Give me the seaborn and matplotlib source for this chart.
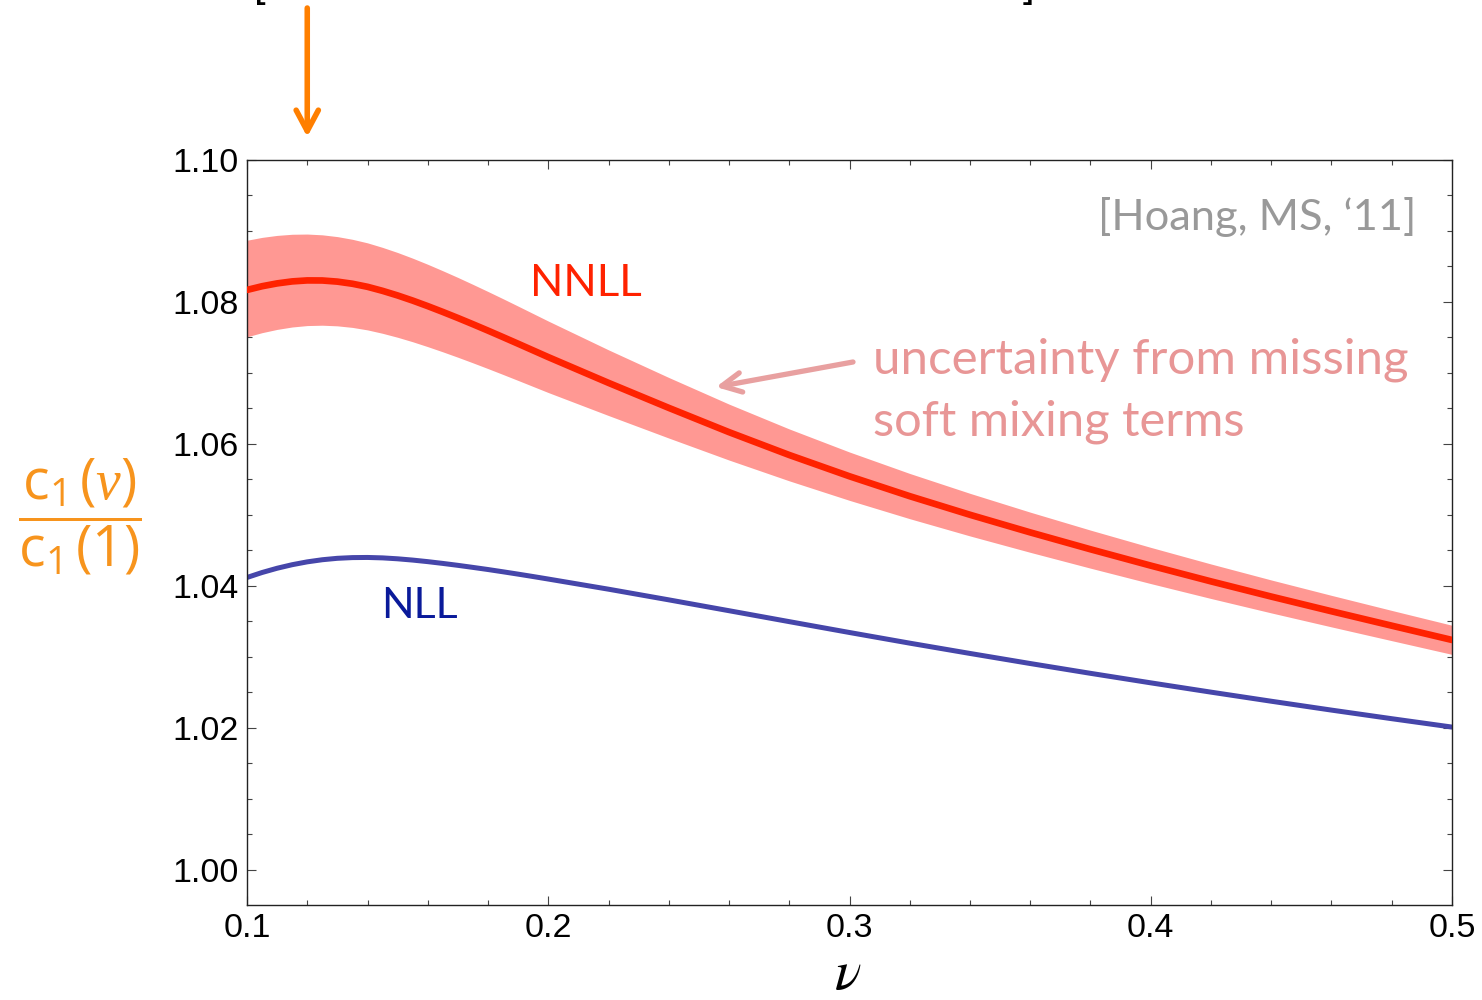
import matplotlib
matplotlib.use("Agg")
import numpy as np
import pandas as pd
import matplotlib.pyplot as plt
import seaborn as sns
from matplotlib.ticker import MultipleLocator, FixedLocator, FixedFormatter

# ---------------- data ----------------
nu = [0.100, 0.105, 0.110, 0.115, 0.120, 0.125, 0.130, 0.135, 0.140, 0.145,
      0.150, 0.155, 0.160, 0.165, 0.170, 0.175, 0.180, 0.185, 0.190, 0.195,
      0.20, 0.22, 0.24, 0.26, 0.28, 0.30, 0.32, 0.34, 0.36, 0.38,
      0.40, 0.42, 0.44, 0.46, 0.48, 0.50]
nnll_center = [1.08170, 1.08222, 1.08262, 1.08290, 1.08304, 1.08303, 1.08287, 1.08257, 1.08214, 1.08157,
               1.08092, 1.08020, 1.07942, 1.07860, 1.07775, 1.07687, 1.07597, 1.07505, 1.07412, 1.07318,
               1.07224, 1.06861, 1.06509, 1.06167, 1.05845, 1.05545, 1.05265, 1.05003, 1.04755, 1.04517,
               1.04287, 1.04065, 1.03851, 1.03644, 1.03441, 1.03240]
nnll_upper = [1.08870, 1.08910, 1.08938, 1.08954, 1.08957, 1.08946, 1.08921, 1.08883, 1.08833, 1.08769,
              1.08697, 1.08617, 1.08531, 1.08440, 1.08346, 1.08248, 1.08148, 1.08046, 1.07942, 1.07837,
              1.07732, 1.07326, 1.06937, 1.06562, 1.06212, 1.05887, 1.05585, 1.05305, 1.05040, 1.04787,
              1.04544, 1.04310, 1.04085, 1.03868, 1.03656, 1.03447]
nnll_lower = [1.07510, 1.07568, 1.07614, 1.07648, 1.07668, 1.07673, 1.07664, 1.07642, 1.07607, 1.07559,
              1.07503, 1.07440, 1.07371, 1.07298, 1.07222, 1.07143, 1.07062, 1.06979, 1.06895, 1.06810,
              1.06725, 1.06401, 1.06084, 1.05774, 1.05481, 1.05206, 1.04948, 1.04705, 1.04474, 1.04251,
              1.04034, 1.03824, 1.03621, 1.03424, 1.03230, 1.03037]
nll = [1.04120, 1.04190, 1.04250, 1.04300, 1.04340, 1.04370, 1.04390, 1.04400, 1.04402, 1.04396,
       1.04383, 1.04365, 1.04343, 1.04318, 1.04291, 1.04262, 1.04232, 1.04200, 1.04167, 1.04133,
       1.04098, 1.03955, 1.03805, 1.03652, 1.03498, 1.03345, 1.03195, 1.03050, 1.02908, 1.02770,
       1.02636, 1.02505, 1.02377, 1.02252, 1.02131, 1.02013]

x_ticks = [0.1, 0.2, 0.3, 0.4, 0.5]
x_tick_labels = ["0.1", "0.2", "0.3", "0.4", "0.5"]
y_ticks = [1.00, 1.02, 1.04, 1.06, 1.08, 1.10]
y_tick_labels = ["1.00", "1.02", "1.04", "1.06", "1.08", "1.10"]

label_nnll = "NNLL"
label_nll = "NLL"
note_lines = ["uncertainty from missing", "soft mixing terms"]
citation = "[Hoang, MS, \u201811]"

# ---------------- style ----------------
sns.set_style("ticks")
plt.rcParams['font.family'] = ['Liberation Sans', 'DejaVu Sans']
plt.rcParams['mathtext.rm'] = 'Open Sans'
plt.rcParams['mathtext.it'] = 'Liberation Serif:italic'
plt.rcParams['mathtext.bf'] = 'Open Sans:bold'
plt.rcParams['mathtext.sf'] = 'Open Sans'

W, H = 1482, 1000
fig = plt.figure(figsize=(W / 100, H / 100), dpi=100)
ax = fig.add_axes([247 / W, 95 / H, 1205 / W, 745 / H])

df = pd.DataFrame({"nu": nu, "NNLL": nnll_center, "NLL": nll})

ax.fill_between(nu, nnll_lower, nnll_upper, color="#FF9893", lw=0, zorder=1)
sns.lineplot(data=df, x="nu", y="NLL", color="#4646AA", lw=3.6, ax=ax, zorder=2)
sns.lineplot(data=df, x="nu", y="NNLL", color="#FF2200", lw=4.8, ax=ax, zorder=3)

ax.set_xlim(0.1, 0.5)
ax.set_ylim(0.99507, 1.10)
ax.xaxis.set_major_locator(FixedLocator(x_ticks))
ax.xaxis.set_major_formatter(FixedFormatter(x_tick_labels))
ax.yaxis.set_major_locator(FixedLocator(y_ticks))
ax.yaxis.set_major_formatter(FixedFormatter(y_tick_labels))
ax.xaxis.set_minor_locator(MultipleLocator(0.02))
ax.yaxis.set_minor_locator(MultipleLocator(0.005))
ax.tick_params(which="both", direction="in", top=True, right=True,
               color="#444444", width=0.8)
ax.tick_params(which="major", length=6.5, labelsize=24.5, labelcolor="black")
ax.tick_params(which="minor", length=3.6)
ax.tick_params(axis="x", which="major", pad=6)
ax.tick_params(axis="y", which="major", pad=6)
for s in ax.spines.values():
    s.set_color("#222222")
    s.set_linewidth(1.0)
ax.set_xlabel("")
ax.set_ylabel("")

# axis labels
fig.text(848 / W, 1 - 975 / H, r"$\nu$", ha="center", va="center",
         fontsize=40, math_fontfamily="stix", color="black")
fig.text(80 / W, 1 - 517 / H,
         r"$\dfrac{\mathrm{c}_{\mathrm{1}}\,(\mathit{\nu})}{\mathrm{c}_{\mathrm{1}}\,(\mathrm{1})}$",
         ha="center", va="center", fontsize=40, math_fontfamily="custom",
         color="#F7941D")

# text annotations (positions given in axes fraction)
def px(xp, yp):
    return ((xp - 247) / 1205, (905 - yp) / 745)

afont = ["Lato", "DejaVu Sans"]
t_nnll = ax.text(*px(530, 284), label_nnll, transform=ax.transAxes, ha="left",
                 va="center", color="#FF2200", family=afont, fontsize=36)
t_nll = ax.text(*px(381, 606), label_nll, transform=ax.transAxes, ha="left",
                va="center", color="#0A1A9A", family=afont, fontsize=36)
t_cit = ax.text(*px(1416, 217), citation, transform=ax.transAxes, ha="right",
                va="center", color="#999999", family=afont, fontsize=32)
t_n1 = ax.text(*px(873, 373), note_lines[0], transform=ax.transAxes, ha="left",
               va="baseline", color="#E89696", family=afont, fontsize=36)
t_n2 = ax.text(*px(873, 436), note_lines[1], transform=ax.transAxes, ha="left",
               va="baseline", color="#E89696", family=afont, fontsize=36)

fig.canvas.draw()
r = fig.canvas.get_renderer()
for t, target in [(t_nnll, 112), (t_nll, 77), (t_cit, 318), (t_n1, 537), (t_n2, 372)]:
    w = t.get_window_extent(r).width
    t.set_fontsize(t.get_fontsize() * target / w)

# pink arrow pointing at the band
ax.annotate("", xy=px(716, 387), xycoords="axes fraction",
            xytext=px(853, 362), textcoords="axes fraction",
            arrowprops=dict(arrowstyle="->,head_length=1.4,head_width=0.7",
                            color="#E8A0A0", lw=3.8, shrinkA=0, shrinkB=0))

# orange arrow above the plot at nu = 0.12
ax.annotate("", xy=(0.12, 1.031), xycoords=("data", "axes fraction"),
            xytext=(0.12, 1.204), textcoords=("data", "axes fraction"),
            arrowprops=dict(arrowstyle="->,head_length=1.5,head_width=0.8",
                            color="#FF7F00", lw=4, shrinkA=0, shrinkB=0),
            annotation_clip=False)

# cut-off brackets at the very top
fig.text(254 / W, 1 + 4 / H, "[", ha="left", va="baseline", fontsize=30, color="black")
fig.text(1034 / W, 1 + 4 / H, "]", ha="right", va="baseline", fontsize=30, color="black")

fig.savefig("out.png", dpi=100)
